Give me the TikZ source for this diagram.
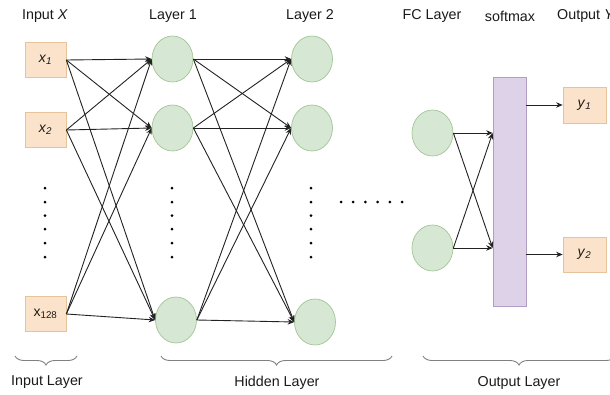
\documentclass[tikz,border=0pt]{standalone}
\usepackage{fontspec}
\setmainfont{Liberation Sans}
\usetikzlibrary{shapes.geometric,arrows.meta,decorations.pathreplacing}
\definecolor{boxfill}{HTML}{FBE3CB}
\definecolor{boxdraw}{HTML}{E6C39A}
\definecolor{neufill}{HTML}{D6E8D3}
\definecolor{neudraw}{HTML}{A3C496}
\definecolor{smfill}{HTML}{DED2E8}
\definecolor{smdraw}{HTML}{B29DC4}
\definecolor{linec}{HTML}{222222}
\definecolor{textc}{HTML}{1A1A1A}
\begin{document}
\begin{tikzpicture}[x=1pt,y=-1pt,
  inbox/.style={draw=boxdraw, fill=boxfill, line width=0.7pt, minimum width=41pt, minimum height=35pt, inner sep=0pt, text=textc, font=\fontsize{14}{16}\selectfont},
  neuron/.style={ellipse, draw=neudraw, fill=neufill, line width=0.7pt, minimum width=41pt, minimum height=46pt, inner sep=0pt},
  smbox/.style={draw=smdraw, fill=smfill, line width=0.7pt, minimum width=33pt, minimum height=229pt, inner sep=0pt},
  conn/.style={draw=linec, line width=0.9pt, -{Stealth[length=6.5pt,width=5.5pt]}},
  lbl/.style={text=textc, inner sep=0pt, font=\fontsize{14.3}{17}\selectfont},
  vdot/.style={circle, fill=black, inner sep=0pt, minimum size=3pt},
  brc/.style={draw=gray, line width=0.9pt, decorate, decoration={brace, amplitude=9pt}}
]
\useasboundingbox (0,0) rectangle (610,394);

% top labels
\node[lbl] (tIn) at (45,16) {Input \textit{X}};
\node[lbl] (tL1) at (173,16) {Layer 1};
\node[lbl] (tL2) at (310,16) {Layer 2};
\node[lbl] (tFC) at (432,16) {FC Layer};
\node[lbl] (tSm) at (510,16) {softmax};
\node[lbl, anchor=west] (tOut) at (557,16) {Output \textit{Y}};

% input boxes
\node[inbox] (x1) at (45.5,60) {\textit{x}\textsubscript{\textit{1}}};
\node[inbox] (x2) at (45.5,130) {\textit{x}\textsubscript{\textit{2}}};
\node[inbox] (x3) at (45.5,314) {x\textsubscript{128}};

% hidden layer 1
\node[neuron] (a1) at (172.5,59) {};
\node[neuron] (a2) at (172.5,128) {};
\node[neuron] (a3) at (176,320) {};
% hidden layer 2
\node[neuron] (b1) at (312,59) {};
\node[neuron] (b2) at (312,128) {};
\node[neuron] (b3) at (315,322) {};
% FC layer
\node[neuron] (f1) at (432.5,133) {};
\node[neuron] (f2) at (432.5,248) {};
% softmax
\node[smbox] (sm) at (509.5,191.5) {};
% outputs
\node[inbox, minimum height=36pt, minimum width=43pt] (o1) at (584.5,105) {\textit{y}\textsubscript{\textit{1}}};
\node[inbox, minimum width=43pt] (o2) at (584.5,254.5) {\textit{y}\textsubscript{\textit{2}}};

% connections input -> layer 1
\foreach \s in {x1,x2,x3}
  \foreach \t in {a1,a2,a3}
    \draw[conn] (\s.east) -- (\t.west);
% layer 1 -> layer 2
\foreach \s in {a1,a2,a3}
  \foreach \t in {b1,b2,b3}
    \draw[conn] (\s.east) -- (\t.west);
% FC -> softmax
\foreach \s in {f1,f2}
  \foreach \t in {f1,f2}
    \draw[conn] (\s.east) -- (sm.west |- \t);
% softmax -> outputs
\draw[conn] (sm.east |- o1) -- (o1.west);
\draw[conn] (sm.east |- o2) -- (o2.west);

% vertical dots
\foreach \cx/\nm in {45/p,172/q,311/r}
  \foreach \i/\cy in {1/188,2/202,3/215.5,4/229,5/243,6/257}
    \node[vdot] (\nm\i) at (\cx,\cy) {};
% horizontal dots
\foreach \i/\cx in {1/341,2/353.2,3/365.4,4/377.6,5/389.8,6/402}
  \node[vdot] (h\i) at (\cx,202) {};

% braces
\draw[brc] (77,356) -- (15,356);
\draw[brc] (392,356) -- (161,356);
\draw[brc] (615,356) -- (423,356);

% bottom labels
\node[lbl] (bIn) at (47,382) {Input Layer};
\node[lbl] (bHid) at (277,383) {Hidden Layer};
\node[lbl] (bOut) at (519,383) {Output Layer};
\end{tikzpicture}
\end{document}
